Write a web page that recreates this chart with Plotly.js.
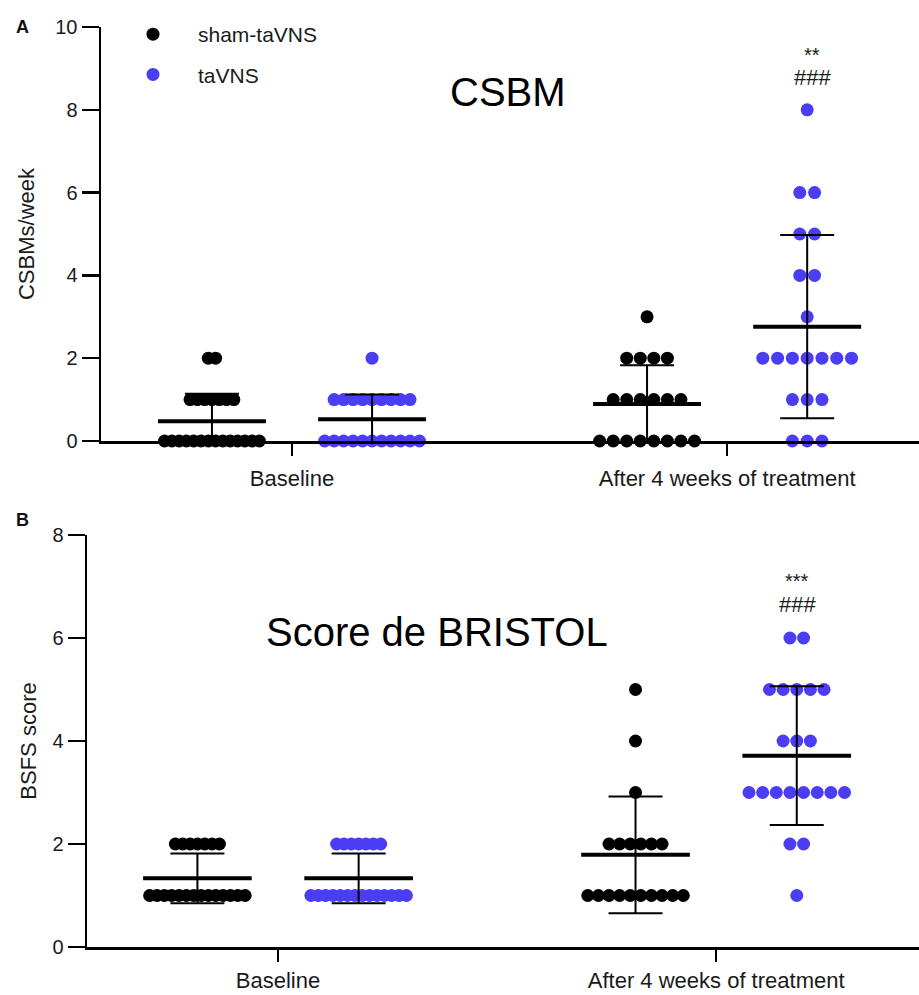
<!DOCTYPE html>
<html>
<head>
<meta charset="utf-8">
<script src="https://cdn.plot.ly/plotly-3.0.1.min.js"></script>
<style>html,body{margin:0;padding:0;background:#fff}#chart{width:919px;height:995px}</style>
</head>
<body>
<div id="chart"></div>
<script>
// ---------- data ----------
const categories = ['Baseline', 'After 4 weeks of treatment'];
const seriesNames = ['sham-taVNS', 'taVNS'];

// Panel A: CSBMs/week
const csbmShamBaseline  = [2,2,1,1,1,1,1,1,1,0,0,0,0,0,0,0,0,0,0,0,0,0,0];
const csbmTaVNSBaseline = [2,1,1,1,1,1,1,1,1,1,0,0,0,0,0,0,0,0,0,0,0];
const csbmShamAfter     = [3,2,2,2,2,1,1,1,1,1,1,0,0,0,0,0,0,0,0];
const csbmTaVNSAfter    = [8,6,6,5,5,4,4,3,2,2,2,2,2,2,2,1,1,1,0,0,0];

// Panel B: BSFS score
const bsfsShamBaseline  = [2,2,2,2,2,2,2,1,1,1,1,1,1,1,1,1,1,1,1,1,1];
const bsfsTaVNSBaseline = [2,2,2,2,2,2,2,1,1,1,1,1,1,1,1,1,1,1,1,1,1];
const bsfsShamAfter     = [5,4,3,2,2,2,2,2,2,1,1,1,1,1,1,1,1,1,1];
const bsfsTaVNSAfter    = [6,6,5,5,5,5,5,4,4,4,3,3,3,3,3,3,3,3,2,2,1];

const sigA = ['**', '###'];
const sigB = ['***', '###'];

// ---------- helpers ----------
const GROUP_OFFSET = 0.184;  // x offset of each series from category center
const MAX_STEP = 0.034;      // maximum spacing between neighbouring dots
const MAX_SPAN = 0.218;      // maximum centre-to-centre width of a row
const MEAN_HALF = 0.124;

function swarm(values, center) {
  const counts = {};
  values.forEach(v => counts[v] = (counts[v] || 0) + 1);
  const maxCount = Math.max(...Object.values(counts));
  const step = maxCount > 1 ? Math.min(MAX_STEP, MAX_SPAN / (maxCount - 1)) : 0;
  const seen = {};
  const xs = [], ys = [];
  values.forEach(v => {
    const k = counts[v];
    const i = seen[v] = (seen[v] === undefined ? 0 : seen[v] + 1);
    xs.push(center + (i - (k - 1) / 2) * step);
    ys.push(v);
  });
  return {xs, ys};
}
function mean(a) { return a.reduce((s, v) => s + v, 0) / a.length; }
function sd(a) { const m = mean(a); return Math.sqrt(a.reduce((s, v) => s + (v - m) ** 2, 0) / (a.length - 1)); }

const BLACK = '#000000';
const BLUE = '#4A3DF4';
const FONT = 'Liberation Sans, Arial, sans-serif';
const TXT = '#1a1a1a';

const traces = [];
function addPanel(groups, xa, ya, showLegend) {
  [0, 1].forEach(s => {
    let xs = [], ys = [];
    [0, 1].forEach(c => {
      const center = (c + 1) + (s === 0 ? -GROUP_OFFSET : GROUP_OFFSET);
      const sw = swarm(groups[c][s], center);
      xs = xs.concat(sw.xs); ys = ys.concat(sw.ys);
    });
    traces.push({
      type: 'scatter', mode: 'markers', x: xs, y: ys, xaxis: xa, yaxis: ya,
      name: seriesNames[s], legendgroup: seriesNames[s], showlegend: showLegend,
      cliponaxis: false,
      marker: {size: 13, color: s === 0 ? BLACK : BLUE, line: {width: 0}},
      hoverinfo: 'y'
    });
  });
  [0, 1].forEach(c => {
    [0, 1].forEach(s => {
      const center = (c + 1) + (s === 0 ? -GROUP_OFFSET : GROUP_OFFSET);
      const vals = groups[c][s];
      const m = mean(vals), d = sd(vals);
      traces.push({
        type: 'scatter', mode: 'lines', x: [center - MEAN_HALF, center + MEAN_HALF], y: [m, m],
        xaxis: xa, yaxis: ya, showlegend: false, hoverinfo: 'skip',
        line: {color: BLACK, width: 4}
      });
      traces.push({
        type: 'scatter', mode: 'markers', x: [center], y: [m], xaxis: xa, yaxis: ya,
        showlegend: false, hoverinfo: 'skip', marker: {size: 1, opacity: 0},
        error_y: {type: 'data', array: [d], visible: true, color: BLACK, thickness: 2, width: 27}
      });
    });
  });
}

addPanel([[csbmShamBaseline, csbmTaVNSBaseline], [csbmShamAfter, csbmTaVNSAfter]], 'x', 'y', true);
addPanel([[bsfsShamBaseline, bsfsTaVNSBaseline], [bsfsShamAfter, bsfsTaVNSAfter]], 'x2', 'y2', false);

const W = 919, H = 995;
const px = x => x / W, py = y => 1 - y / H;

function xaxisCfg(left, anchor, range, standoff) {
  return {
    domain: [px(left), 1], anchor: anchor, range: range,
    tickmode: 'array', tickvals: [1, 2], ticktext: categories,
    ticks: 'outside', ticklen: 12, tickwidth: 2.5, tickcolor: BLACK,
    showline: true, linecolor: BLACK, linewidth: 2.5,
    showgrid: false, zeroline: false, ticklabelstandoff: standoff,
    tickfont: {family: FONT, size: 22, color: TXT}
  };
}
function yaxisCfg(top, bottom, anchor, range, dtick, title, standoff) {
  return {
    domain: [py(bottom), py(top)], anchor: anchor, range: range, dtick: dtick,
    ticks: 'outside', ticklen: 17, tickwidth: 2.5, tickcolor: BLACK,
    showline: true, linecolor: BLACK, linewidth: 2.5,
    showgrid: false, zeroline: false,
    tickfont: {family: FONT, size: 20, color: TXT},
    title: {text: title, font: {family: FONT, size: 22, color: TXT}, standoff: standoff}
  };
}

const layout = {
  width: W, height: H,
  margin: {l: 0, r: 0, t: 0, b: 0},
  paper_bgcolor: '#fff', plot_bgcolor: '#fff',
  font: {family: FONT, color: TXT},
  xaxis: xaxisCfg(101, 'y', [0.561, 2.441], 4),
  yaxis: yaxisCfg(27, 441, 'x', [0, 10], 2, 'CSBMs/week', 15),
  xaxis2: xaxisCfg(87, 'y2', [0.564, 2.463], 0),
  yaxis2: yaxisCfg(535, 947, 'x2', [0, 8], 2, 'BSFS score', 10),
  showlegend: true,
  legend: {
    x: px(108), y: py(14), xanchor: 'left', yanchor: 'top',
    font: {family: FONT, size: 21, color: TXT},
    bgcolor: 'rgba(0,0,0,0)', traceorder: 'grouped', tracegroupgap: 10,
    itemwidth: 80
  },
  annotations: [
    {xref: 'paper', yref: 'paper', x: px(22), y: py(27), text: '<b>A</b>', showarrow: false,
     font: {family: FONT, size: 18, color: '#111'}, xanchor: 'center', yanchor: 'middle'},
    {xref: 'paper', yref: 'paper', x: px(22), y: py(520), text: '<b>B</b>', showarrow: false,
     font: {family: FONT, size: 18, color: '#111'}, xanchor: 'center', yanchor: 'middle'},
    {xref: 'paper', yref: 'paper', x: px(508), y: py(92), text: 'CSBM', showarrow: false,
     font: {family: FONT, size: 40, color: '#000'}, xanchor: 'center', yanchor: 'middle'},
    {xref: 'paper', yref: 'paper', x: px(437), y: py(632), text: 'Score de BRISTOL', showarrow: false,
     font: {family: FONT, size: 40, color: '#000'}, xanchor: 'center', yanchor: 'middle'},
    {xref: 'paper', yref: 'paper', x: px(812), y: py(55), text: sigA[0], showarrow: false,
     font: {family: FONT, size: 20, color: TXT}, xanchor: 'center', yanchor: 'middle'},
    {xref: 'paper', yref: 'paper', x: px(812), y: py(78), text: sigA[1], showarrow: false,
     font: {family: FONT, size: 22, color: TXT}, xanchor: 'center', yanchor: 'middle'},
    {xref: 'paper', yref: 'paper', x: px(797), y: py(581), text: sigB[0], showarrow: false,
     font: {family: FONT, size: 20, color: TXT}, xanchor: 'center', yanchor: 'middle'},
    {xref: 'paper', yref: 'paper', x: px(797), y: py(604), text: sigB[1], showarrow: false,
     font: {family: FONT, size: 22, color: TXT}, xanchor: 'center', yanchor: 'middle'}
  ]
};

Plotly.newPlot('chart', traces, layout, {displayModeBar: false, staticPlot: true});
</script>
</body>
</html>
